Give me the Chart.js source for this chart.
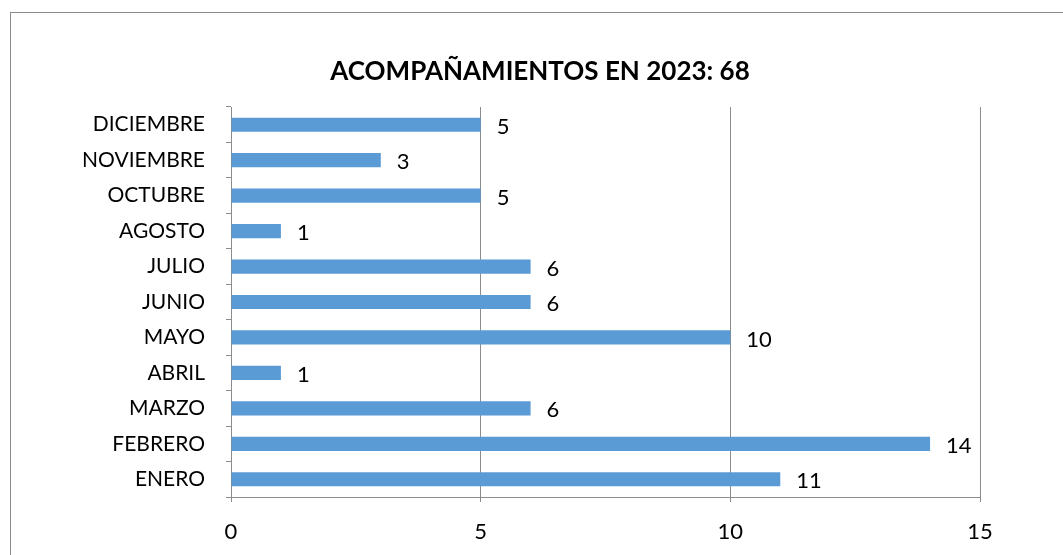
<!DOCTYPE html>
<html><head><meta charset="utf-8">
<script src="https://cdn.jsdelivr.net/npm/chart.js@4/dist/chart.umd.min.js"></script>
<style>html,body{margin:0;padding:0;background:#fff;overflow:hidden}#wrap{width:1063px;height:555px;position:relative}</style>
</head><body><div id="wrap"><canvas id="c" width="1063" height="555"></canvas></div>
<script>
const months = ["ENERO","FEBRERO","MARZO","ABRIL","MAYO","JUNIO","JULIO","AGOSTO","OCTUBRE","NOVIEMBRE","DICIEMBRE"];
const values = [11,14,6,1,10,6,6,1,5,3,5];
const xTicks = [0,5,10,15];
const titleText = "ACOMPAÑAMIENTOS EN 2023: 68";

const FONT = "Lato, 'Open Sans', sans-serif";
const GRID = "#8c8c8c";

const frame = {
  id:'frame',
  beforeDraw(chart){
    const c = chart.ctx; c.save();
    c.fillStyle='#fff'; c.fillRect(0,0,chart.width,chart.height);
    c.strokeStyle='#8a8a8a'; c.lineWidth=1;
    c.strokeRect(10.5,12.5,2000,2000);
    c.restore();
  },
  afterDraw(chart){
    const c = chart.ctx; c.save();
    c.font = "bold 26px " + FONT; c.fillStyle='#000';
    c.textAlign='center'; c.textBaseline='middle';
    c.fillText(titleText, 540, 72);
    c.restore();
  }
};
const valueLabels = {
  id:'valueLabels',
  afterDatasetsDraw(chart){
    const c = chart.ctx; c.save();
    c.font = "22px " + FONT; c.fillStyle='#000';
    c.textAlign='left'; c.textBaseline='middle';
    const meta = chart.getDatasetMeta(0);
    meta.data.forEach((bar,i)=>{
      c.fillText(String(values[i]), bar.x + 16, bar.y + 2);
    });
    c.restore();
  }
};

new Chart(document.getElementById('c'), {
  type:'bar',
  data:{ labels: months, datasets:[{ data: values, backgroundColor:'#5b9bd5', borderWidth:0, categoryPercentage:1, barPercentage:0.4 }]},
  options:{
    indexAxis:'y', responsive:false, animation:false, devicePixelRatio:1,
    layout:{ padding:{ left:0, right:83, top:107, bottom:0 } },
    plugins:{ legend:{display:false}, tooltip:{enabled:false}, title:{display:false} },
    scales:{
      x:{ min:0, max:15, afterBuildTicks(s){ s.ticks = xTicks.map(v=>({value:v})); },
          grid:{ color:GRID, lineWidth:1, tickLength:5, drawTicks:true },
          border:{ color:GRID, width:1 },
          ticks:{ color:'#000', font:{family:FONT, size:22}, padding:17 },
          afterFit(s){ s.height = 58; } },
      y:{ reverse:true,
          grid:{ display:true, drawOnChartArea:false, drawTicks:true, tickLength:5, offset:true, color:GRID },
          border:{ color:GRID, width:1 },
          ticks:{ color:'#000', font:{family:FONT, size:21}, padding:21 },
          afterFit(s){ s.width = 231; } }
    }
  },
  plugins:[frame, valueLabels]
});
</script></body></html>
